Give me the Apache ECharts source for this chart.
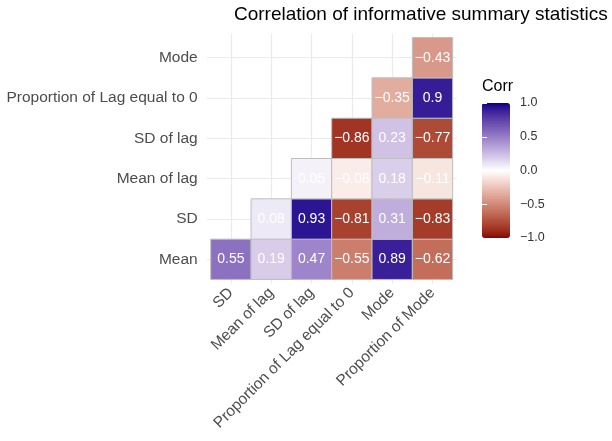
<!DOCTYPE html>
<html>
<head>
<meta charset="utf-8">
<script src="https://cdn.jsdelivr.net/npm/echarts@6/dist/echarts.min.js"></script>
<style>
  html, body { margin: 0; padding: 0; background: #fff; }
  #chart { width: 612px; height: 441px; }
</style>
</head>
<body>
<div id="chart"></div>
<script>
const xLabels = ['SD', 'Mean of lag', 'SD of lag', 'Proportion of Lag equal to 0', 'Mode', 'Proportion of Mode'];
const yLabels = ['Mean', 'SD', 'Mean of lag', 'SD of lag', 'Proportion of Lag equal to 0', 'Mode'];

// one row per y label (bottom to top), one entry per x label, null = empty
const corrRows = [
  [0.55, 0.19, 0.47, -0.55, 0.89, -0.62],
  [null, 0.08, 0.93, -0.81, 0.31, -0.83],
  [null, null, 0.05, -0.08, 0.18, -0.11],
  [null, null, null, -0.86, 0.23, -0.77],
  [null, null, null, null, -0.35, 0.9],
  [null, null, null, null, null, -0.43],
];

const cells = [];
corrRows.forEach((row, yi) => {
  row.forEach((v, xi) => {
    if (v !== null) cells.push([xi + 1, yi + 1, v]);
  });
});

// lab interpolation, like ggplot's gradient2
function hexToLab(hex) {
  const c = [1, 3, 5].map((i) => parseInt(hex.slice(i, i + 2), 16) / 255)
    .map((u) => (u <= 0.04045 ? u / 12.92 : Math.pow((u + 0.055) / 1.055, 2.4)));
  const X = (0.4124 * c[0] + 0.3576 * c[1] + 0.1805 * c[2]) / 0.95047;
  const Y = 0.2126 * c[0] + 0.7152 * c[1] + 0.0722 * c[2];
  const Z = (0.0193 * c[0] + 0.1192 * c[1] + 0.9505 * c[2]) / 1.08883;
  const f = (t) => (t > 0.008856 ? Math.cbrt(t) : 7.787 * t + 16 / 116);
  return [116 * f(Y) - 16, 500 * (f(X) - f(Y)), 200 * (f(Y) - f(Z))];
}
function labToHex(l) {
  const fy = (l[0] + 16) / 116, fx = fy + l[1] / 500, fz = fy - l[2] / 200;
  const g = (t) => (t * t * t > 0.008856 ? t * t * t : (t - 16 / 116) / 7.787);
  const X = g(fx) * 0.95047, Y = g(fy), Z = g(fz) * 1.08883;
  const r = [
    3.2406 * X - 1.5372 * Y - 0.4986 * Z,
    -0.9689 * X + 1.8758 * Y + 0.0415 * Z,
    0.0557 * X - 0.204 * Y + 1.057 * Z,
  ].map((u) => (u <= 0.0031308 ? 12.92 * u : 1.055 * Math.pow(u, 1 / 2.4) - 0.055))
    .map((u) => Math.round(Math.min(1, Math.max(0, u)) * 255));
  return '#' + r.map((u) => u.toString(16).padStart(2, '0')).join('');
}
const lowLab = hexToLab('#8b0000');
const midLab = hexToLab('#ffffff');
const highLab = hexToLab('#00008b');
const ramp = [];
for (let k = 0; k <= 40; k++) {
  const t = k / 20 - 1;
  const a = t < 0 ? lowLab : highLab;
  const w = Math.abs(t);
  ramp.push(labToHex(midLab.map((m, i) => m + (a[i] - m) * w)));
}

const fmt = (v) => (v < 0 ? '\u2212' : '') + Math.abs(v).toFixed(1);
const font = "'Liberation Sans', Arial, sans-serif";

const chart = echarts.init(document.getElementById('chart'), null, { renderer: 'canvas' });

chart.setOption({
  animation: false,
  backgroundColor: '#fff',
  textStyle: { fontFamily: font },
  title: {
    text: 'Correlation of informative summary statistics',
    left: 234,
    top: 5,
    padding: 0,
    textStyle: { fontSize: 19, fontWeight: 'normal', color: '#000', fontFamily: font },
  },
  visualMap: {
    type: 'continuous',
    min: -1,
    max: 1,
    dimension: 2,
    seriesIndex: 0,
    calculable: false,
    showLabel: false,
    text: null,
    itemWidth: 28,
    itemHeight: 135,
    left: 482,
    top: 103,
    padding: 0,
    inRange: { color: ramp },
  },
  grid: [
    { left: 206.7, top: 33.5, width: 250, height: 250, containLabel: false },
    { left: 482, top: 103, width: 28, height: 135, containLabel: false },
  ],
  xAxis: [
    {
      gridIndex: 0,
      type: 'value',
      min: 0.4,
      max: 6.6,
      axisLine: { show: false },
      splitLine: { show: false },
      axisTick: { show: false },
      axisLabel: {
        customValues: [1, 2, 3, 4, 5, 6],
        formatter: (v) => xLabels[Math.round(v) - 1],
        rotate: 45,
        margin: 7,
        color: '#4d4d4d',
        fontSize: 15.5,
        fontFamily: font,
      },
    },
    { gridIndex: 1, type: 'value', show: false, min: 0, max: 1 },
  ],
  yAxis: [
    {
      gridIndex: 0,
      type: 'value',
      min: 0.4,
      max: 6.6,
      axisLine: { show: false },
      splitLine: { show: false },
      axisTick: { show: false },
      axisLabel: {
        customValues: [1, 2, 3, 4, 5, 6],
        formatter: (v) => yLabels[Math.round(v) - 1],
        margin: 9,
        color: '#4d4d4d',
        fontSize: 15.5,
        fontFamily: font,
      },
    },
    {
      gridIndex: 1,
      type: 'value',
      position: 'right',
      min: -1,
      max: 1,
      interval: 0.5,
      z: 10,
      axisLine: { show: false },
      splitLine: { show: false },
      axisTick: { show: true, inside: true, length: 5, lineStyle: { color: '#ffffff', width: 1 } },
      axisLabel: { formatter: fmt, margin: 10, color: '#333', fontSize: 12.5, fontFamily: font },
    },
    {
      gridIndex: 1,
      type: 'value',
      position: 'left',
      min: -1,
      max: 1,
      interval: 0.5,
      z: 10,
      axisLine: { show: false },
      splitLine: { show: false },
      axisLabel: { show: false },
      axisTick: { show: true, inside: true, length: 5, lineStyle: { color: '#ffffff', width: 1 } },
    },
  ],
  graphic: [
    {
      type: 'text',
      left: 482,
      top: 79,
      style: { text: 'Corr', fontSize: 16, fill: '#000', fontFamily: font },
    },
  ],
  series: [
    {
      type: 'custom',
      xAxisIndex: 0,
      yAxisIndex: 0,
      data: cells,
      z: 3,
      renderItem: (params, api) => {
        const c = api.coord([api.value(0), api.value(1)]);
        const s = api.size([1, 1]);
        return {
          type: 'group',
          children: [
            {
              type: 'rect',
              shape: { x: c[0] - s[0] / 2, y: c[1] - s[1] / 2, width: s[0], height: s[1] },
              style: { fill: api.visual('color'), stroke: '#bebebe', lineWidth: 1 },
            },
            {
              type: 'text',
              style: {
                x: c[0],
                y: c[1],
                text: (api.value(2) < 0 ? '\u2212' : '') + String(Math.abs(api.value(2))),
                fill: '#fff',
                fontSize: 14,
                fontFamily: font,
                align: 'center',
                verticalAlign: 'middle',
              },
            },
          ],
        };
      },
    },
    {
      // panel grid lines at category centres
      type: 'line',
      xAxisIndex: 0,
      yAxisIndex: 0,
      data: [],
      z: 1,
      markLine: {
        silent: true,
        z: 1,
        symbol: ['none', 'none'],
        label: { show: false },
        lineStyle: { color: '#ebebeb', width: 1.2, type: 'solid' },
        data: [1, 2, 3, 4, 5, 6].map((v) => ({ xAxis: v }))
          .concat([1, 2, 3, 4, 5, 6].map((v) => ({ yAxis: v }))),
      },
    },
  ],
});
</script>
</body>
</html>
